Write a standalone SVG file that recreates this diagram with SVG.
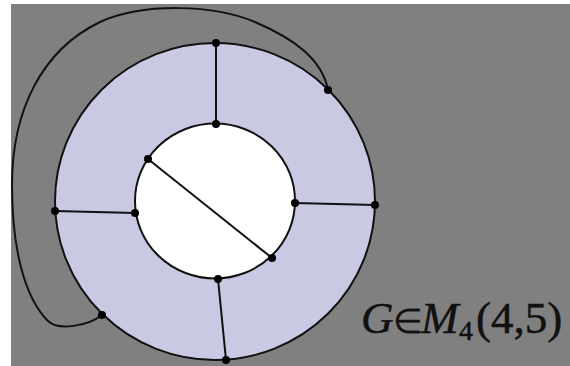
<svg xmlns="http://www.w3.org/2000/svg" width="570" height="366" viewBox="0 0 570 366">
<style>
.edge{fill:none;stroke:#111;stroke-width:2}
.dot{fill:#000}
.lbl{font-family:"Liberation Serif","Times New Roman",serif;fill:#111;font-size:45px;stroke:#111;stroke-width:0.5}
</style>
<rect x="0" y="0" width="570" height="366" fill="#ffffff"/>
<rect x="11" y="4" width="559" height="362" fill="#808080"/>
<g id="regions">
<ellipse cx="215" cy="201.5" rx="160" ry="158.5" fill="#c9c9e3"/>
<ellipse cx="215" cy="201" rx="80" ry="77.5" fill="#ffffff"/>
</g>
<g id="connectors">
<ellipse class="edge" cx="215" cy="201.5" rx="160" ry="158.5"/>
<ellipse class="edge" cx="215" cy="201" rx="80" ry="77.5"/>
<line class="edge" x1="216" y1="43" x2="216" y2="124"/>
<line class="edge" x1="55" y1="211" x2="135" y2="213"/>
<line class="edge" x1="295" y1="203" x2="375" y2="205"/>
<line class="edge" x1="218" y1="279" x2="226" y2="360"/>
<line class="edge" x1="148" y1="159" x2="272" y2="258"/>
<path class="edge" d="M328,90 C322,58 292,38 255,22 C215,5 145,2 100,22 C42,50 12,110 12,185 C12,250 25,298 48,321 C58,331 88,326 102,315"/>
</g>
<g id="n1"><circle class="dot" cx="216" cy="43" r="4"/></g>
<g id="n2"><circle class="dot" cx="216" cy="124" r="4"/></g>
<g id="n3"><circle class="dot" cx="55" cy="211" r="4"/></g>
<g id="n4"><circle class="dot" cx="135" cy="213" r="4"/></g>
<g id="n5"><circle class="dot" cx="295" cy="203" r="4"/></g>
<g id="n6"><circle class="dot" cx="375" cy="205" r="4"/></g>
<g id="n7"><circle class="dot" cx="218" cy="279" r="4"/></g>
<g id="n8"><circle class="dot" cx="226" cy="360" r="4"/></g>
<g id="n9"><circle class="dot" cx="148" cy="159" r="4"/></g>
<g id="n10"><circle class="dot" cx="272" cy="258" r="4"/></g>
<g id="n11"><circle class="dot" cx="328" cy="90" r="4"/></g>
<g id="n12"><circle class="dot" cx="102" cy="315" r="4"/></g>
<g id="label">
<text class="lbl" y="333"><tspan x="361" font-style="italic">G</tspan><tspan x="393" font-size="34" stroke-width="0.2">∈</tspan><tspan x="421" font-style="italic">M</tspan><tspan x="459" y="340" font-size="28">4</tspan><tspan x="476" y="333">(4,5)</tspan></text>
</g>
</svg>
